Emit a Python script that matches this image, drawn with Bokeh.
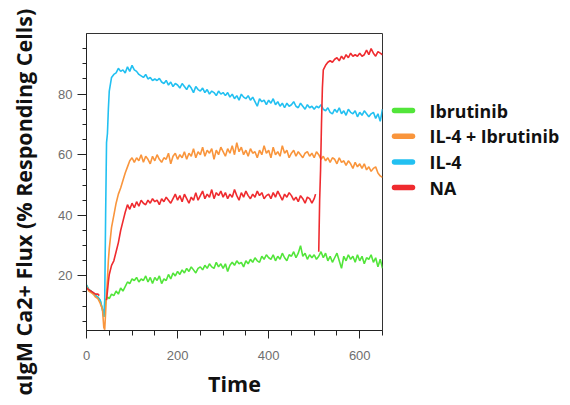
import math
from bokeh.plotting import figure
from bokeh.layouts import row
from bokeh.models import FixedTicker, Range1d, Title
from bokeh.core.properties import value
from bokeh.embed import file_html
from bokeh.resources import INLINE

# ---------------- data ----------------
series_names = ["Ibrutinib", "IL-4 + Ibrutinib", "IL-4", "NA"]
y_label = "αIgM Ca2+ Flux (% Responding Cells)"
x_label = "Time"
x_ticks = [0, 200, 400, 600]
y_ticks = [20, 40, 60, 80]

t_early = [0, 5, 10, 15, 20, 25, 30, 35, 38, 40, 42, 44, 46, 48]
t_main = list(range(50, 655, 5))  # 50 .. 650

ibrutinib_early = [17, 15.5, 15, 14, 13.5, 13, 12, 9, 6.5, 9, 12, 12.5, 13, 12.8]
ibrutinib_main = [
    12.5, 14, 13.5, 15, 14, 16, 15, 16.5, 18, 17.5,
    19, 18.5, 19.5, 18, 19, 18.5, 20, 18, 19.5, 17.5,
    19.5, 18.5, 20, 17.5, 19, 18.5, 20.5, 19, 21, 20,
    21.5, 20.5, 22, 21, 22.5, 21.5, 23, 22, 21, 22.5,
    23, 22, 23.5, 22.5, 24, 23, 22.5, 24.5, 23, 24,
    22.5, 24, 21.5, 23.5, 24.5, 23.5, 25, 24, 24.5, 23,
    25, 24, 25.5, 24.5, 26, 25, 24.5, 26.5, 25.5, 27,
    26, 25.5, 27, 25, 26.5, 25.5, 27.5, 26, 25, 27,
    26.5, 28, 26, 27.5, 30, 26.5, 27.5, 25.5, 27, 26,
    27, 25.5, 26.5, 28, 26, 27.5, 25, 26.5, 24.5, 26,
    27.5, 25, 22.5, 26.5, 25, 27, 25.5, 26.5, 24.5, 27,
    25, 26.5, 24, 26, 25.5, 27, 24.5, 26, 23, 25.5,
    22.5,
]

il4_ibr_early = [16.5, 15, 14.5, 14, 13, 12.5, 11, 9, 3, 2.3, 8, 14, 19, 25]
il4_ibr_main = [
    29, 36, 40, 44, 47, 49, 51.5, 54, 56, 58,
    59, 57.5, 59, 58, 60, 57.5, 59.5, 58.5, 57, 59.5,
    58, 60, 58.5, 57.5, 59, 58.5, 60.5, 57, 59.5, 60.5,
    58.5, 60, 59, 61, 58.5, 60.5, 59.5, 62, 59, 61,
    60, 62.5, 59.5, 61.5, 60.5, 62, 58.5, 61.5, 60, 62.5,
    61, 59.5, 62, 60.5, 63, 60, 64, 61, 62.5, 60,
    61.5, 59.5, 62, 60.5, 61, 59, 61.5, 60, 63, 60.5,
    61.5, 59, 62.5, 60, 61, 59.5, 63, 60.5, 61.5, 59,
    60.5, 61.5, 59.5, 61, 60, 59, 60.5, 61, 59.5, 60.5,
    59, 61, 60, 58.5, 59.5, 58, 59, 57.5, 59, 58.5,
    57, 59, 57.5, 58, 56.5, 58, 57, 55.5, 57.5, 56,
    57, 55.5, 57, 55, 56, 54.5, 55.5, 56, 54, 53,
    52.5,
]

il4_early = [17, 15.5, 15, 14.5, 13.5, 13, 12, 9, 6.5, 12, 40, 64, 67, 75]
il4_main = [
    81, 85.5, 86.5, 87, 88.5, 87.5, 88, 87, 89, 87.5,
    89.5, 88, 87.5, 86.5, 86, 85.5, 86.5, 85, 85.5, 84.5,
    85, 84.5, 85.2, 84, 83.5, 84.5, 83, 84, 82.5, 83.5,
    83, 82, 83.5, 82.5, 81.5, 83, 82, 80.5, 82.5, 81.5,
    81, 82, 80.5, 81.5, 80, 81, 80.5, 79.5, 81, 80,
    80.5, 79.5, 80.5, 79, 80, 78.5, 79.5, 78, 80, 79,
    78.5, 79.5, 78, 79, 77.5, 76, 78.5, 77.5, 78, 76.5,
    78, 77, 78.5, 76.5, 77.5, 76, 77, 75.5, 77, 76,
    76.5, 77.5, 76, 75.5, 77, 76, 75, 76.5, 75.5, 76,
    75, 76, 75.5, 76.5, 75, 74.5, 75.5, 74, 73.5, 75,
    74, 75.5, 73.5, 74.5, 73, 75, 74, 73.5, 74.5, 72.5,
    74, 73, 74.5, 73.5, 72.5, 73.5, 74, 72, 73.5, 71,
    75,
]

na_early_t = [0, 5, 10, 15, 20, 25, 28]
na_early = [16, 15.5, 15, 14.5, 14, 14, 13.5]
na_mid_t = [44, 46, 48] + list(range(50, 505, 5)) + [503]
na_mid = [
    12, 15, 18,
    20.5, 23.5, 25, 28, 31, 35, 38, 41, 43.5, 42,
    44, 42.5, 44.5, 43, 45, 44, 43.5, 45, 44, 45.5,
    44.5, 45, 43.5, 45.5, 44.5, 46, 45, 44, 45.5, 47,
    45, 46.5, 44.5, 47, 45.5, 44, 46, 45, 47.5, 45,
    46.5, 48, 45.5, 47, 46, 48.5, 45.5, 47.5, 46.5, 48,
    46, 47.5, 45.5, 47, 46, 48.5, 46.5, 45, 47.5, 46,
    48, 46.5, 45.5, 47, 46, 48, 46.5, 47.5, 45.5, 46.5,
    47, 45.5, 47.5, 46, 48, 46.5, 45, 47, 46, 47.5,
    46.5, 45, 46, 44.5, 46.5, 45.5, 44, 46, 45.5, 44,
    45.5,
    47,
]
na_late_t = [510, 512, 514, 516, 518, 520] + list(range(525, 655, 5))
na_late = [
    28, 45, 55, 70, 82, 88,
    89.5, 90.5, 91, 90.5, 91.5, 92, 91, 92.5, 91.5, 93,
    92, 93.5, 92.5, 93, 92.5, 93.5, 92.5, 93, 94.5, 93,
    95, 93.5, 92.5, 94, 93.5, 93,
]

colors = ["#52e53a", "#f9953c", "#22c0f1", "#ef2b2f"]

# -------------- assemble --------------
nan = float("nan")
xs = [
    t_early + t_main,
    t_early + t_main,
    t_early + t_main,
    na_early_t + [nan] + na_mid_t + [nan] + na_late_t,
]
ys = [
    ibrutinib_early + ibrutinib_main,
    il4_ibr_early + il4_ibr_main,
    il4_early + il4_main,
    na_early + [nan] + na_mid + [nan] + na_late,
]

H = 402
LEFT_W = 50
FRAME_LEFT, FRAME_RIGHT = 86, 382
FRAME_TOP, FRAME_BOTTOM = 33, 330
MAIN_W = FRAME_RIGHT + 2 - LEFT_W
LEG_W = 178
LABEL_FONT = "Open Sans"

# ---- left strip: carries the rotated y-axis title in its side panel ----
lf = figure(width=LEFT_W, height=H, output_backend="svg", toolbar_location=None,
            x_axis_location=None, y_axis_location=None,
            min_border_left=0, min_border_right=0,
            min_border_top=FRAME_TOP, min_border_bottom=H - FRAME_BOTTOM,
            outline_line_color=None)
lf.grid.visible = False
ytitle = Title(
    text=y_label, align="left", offset=-65, vertical_align="bottom",
    text_font=LABEL_FONT, text_font_style="bold", text_font_size="21.5px",
    text_color="#111111", standoff=13,
)
lf.add_layout(ytitle, "left")

# ---- main plot ----
p = figure(
    width=MAIN_W, height=H,
    output_backend="svg", toolbar_location=None,
    x_range=Range1d(0, 650), y_range=Range1d(2, 100),
    min_border_left=FRAME_LEFT - LEFT_W, min_border_right=2,
    min_border_top=FRAME_TOP, min_border_bottom=H - FRAME_BOTTOM,
)
p.grid.visible = False
p.outline_line_color = "#333333"
p.outline_line_width = 1

draw_order = [0, 2, 1, 3]
for i in draw_order:
    p.line(xs[i], ys[i], line_color=colors[i], line_width=1.6)

for ax in (p.xaxis[0], p.yaxis[0]):
    ax.axis_line_color = "#222222"
    ax.major_tick_line_color = "#222222"
    ax.minor_tick_line_color = "#222222"
    ax.major_tick_in = 0
    ax.minor_tick_in = 0
    ax.major_label_text_color = "#6e6e6e"
    ax.major_label_text_font = "Liberation Sans"
    ax.major_label_text_font_size = "13px"

p.xaxis.ticker = FixedTicker(ticks=x_ticks, minor_ticks=list(range(0, 651, 50)))
p.yaxis.ticker = FixedTicker(ticks=y_ticks, minor_ticks=list(range(5, 100, 5)))
p.xaxis.major_tick_out = 8
p.xaxis.minor_tick_out = 5
p.yaxis.major_tick_out = 9
p.yaxis.minor_tick_out = 4
p.xaxis.major_label_standoff = 12
p.yaxis.major_label_standoff = 5

p.xaxis.axis_label = x_label
p.xaxis.axis_label_text_font = LABEL_FONT
p.xaxis.axis_label_text_font_style = "bold"
p.xaxis.axis_label_text_font_size = "21.5px"
p.xaxis.axis_label_text_color = "#111111"
p.xaxis.axis_label_standoff = 6

# ---- legend strip (frame aligned with the main plot's frame) ----
lg = figure(width=LEG_W, height=H, output_backend="svg", toolbar_location=None,
            x_range=Range1d(0, LEG_W), y_range=Range1d(FRAME_BOTTOM, FRAME_TOP),
            x_axis_location=None, y_axis_location=None,
            min_border_left=0, min_border_right=0,
            min_border_top=FRAME_TOP, min_border_bottom=H - FRAME_BOTTOM,
            outline_line_color=None)
lg.grid.visible = False
row_y = [110 + 25.7 * k for k in range(len(series_names))]
lg.segment(x0=[10] * 4, y0=row_y, x1=[28] * 4, y1=row_y,
           line_color=colors, line_width=5.5, line_cap="round")
lg.text(x=[45] * 4, y=row_y, text=series_names,
        text_align="left", text_baseline="middle",
        text_font=value(LABEL_FONT), text_font_style="bold",
        text_font_size="17.8px", text_color="#111111")

layout = row(lf, p, lg)
open("out.html", "w").write(file_html(layout, INLINE))
